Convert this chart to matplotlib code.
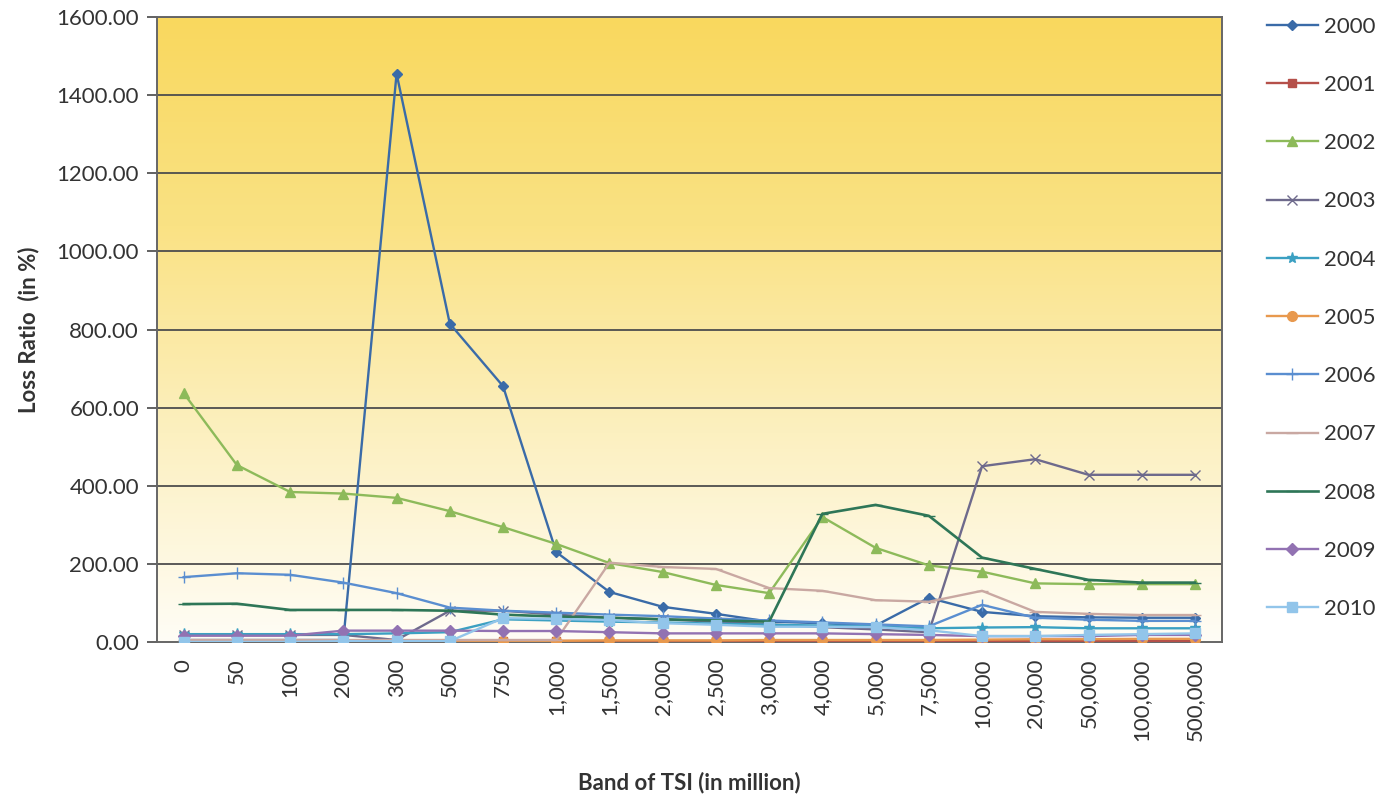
import numpy as np
import matplotlib
matplotlib.use("Agg")
import matplotlib.pyplot as plt
from matplotlib.colors import LinearSegmentedColormap

plt.rcParams['font.family'] = ['Lato', 'DejaVu Sans']

# ---- data ----
bands = ["0", "50", "100", "200", "300", "500", "750", "1,000", "1,500", "2,000",
         "2,500", "3,000", "4,000", "5,000", "7,500", "10,000", "20,000", "50,000",
         "100,000", "500,000"]

y2000 = [5, 5, 5, 5, 1455, 815, 655, 230, 128, 90, 72, 52, 48, 42, 113, 77, 66, 63, 62, 62]
y2001 = [2, 2, 2, 2, 2, 2, 2, 2, 2, 2, 2, 2, 2, 2, 2, 2, 2, 2, 2, 2]
y2002 = [637, 453, 384, 380, 369, 335, 294, 251, 202, 179, 146, 125, 320, 241, 196, 180, 150, 148, 148, 148]
y2003 = [18, 18, 18, 18, 5, 80, 80, 70, 62, 58, 52, 45, 38, 32, 25, 450, 468, 428, 428, 428]
y2004 = [20, 20, 20, 20, 22, 25, 58, 55, 52, 50, 47, 44, 42, 40, 35, 37, 38, 35, 35, 35]
y2005 = [3, 3, 3, 3, 3, 3, 3, 3, 4, 4, 4, 5, 5, 5, 5, 6, 7, 7, 8, 8]
y2006 = [166, 176, 172, 152, 125, 88, 80, 75, 70, 66, 60, 55, 50, 45, 40, 95, 62, 57, 54, 54]
y2007 = [5, 5, 5, 5, 5, 5, 5, 5, 203, 192, 187, 138, 131, 107, 103, 131, 77, 72, 69, 69]
y2008 = [97, 98, 82, 82, 82, 80, 70, 65, 62, 58, 55, 52, 328, 351, 323, 216, 187, 159, 152, 152]
y2009 = [16, 16, 16, 29, 29, 29, 28, 28, 25, 22, 22, 22, 22, 20, 18, 15, 15, 15, 18, 18]
y2010 = [0, 0, 0, 2, 2, 2, 61, 59, 56, 48, 44, 39, 39, 38, 30, 15, 15, 18, 20, 22]

series = [
    ("2000", y2000, "#3A6BA8", "D", 5, 1.7),
    ("2001", y2001, "#B5504A", "s", 6, 1.7),
    ("2002", y2002, "#8DBA5A", "^", 7, 1.7),
    ("2003", y2003, "#6E6A8C", "x", 7, 1.7),
    ("2004", y2004, "#3BA0C2", "*", 8, 1.7),
    ("2005", y2005, "#E8994E", "o", 7, 1.7),
    ("2006", y2006, "#5A8ED0", "+", 9, 1.7),
    ("2007", y2007, "#C9A8A2", "_", 8, 1.7),
    ("2008", y2008, "#2E7657", "_", 8, 1.9),
    ("2009", y2009, "#9272B2", "D", 6, 1.7),
    ("2010", y2010, "#92C5EA", "s", 7, 1.7),
]

fig = plt.figure(figsize=(13.85, 7.95), dpi=100)
ax = fig.add_axes([0.1134, 0.1925, 0.7686, 0.786])

x = np.arange(len(bands))

# yellow -> white gradient background
cmap = LinearSegmentedColormap.from_list("bg", ["#FFFDF6", "#FCF0C0", "#FAE284", "#F9D85E"])
grad = np.linspace(0, 1, 256).reshape(-1, 1)
ax.imshow(grad, cmap=cmap, aspect="auto", origin="lower",
          extent=[0, 1, 0, 1], transform=ax.transAxes, zorder=0)

for yv in range(200, 1601, 200):
    ax.axhline(yv, color="#4d4d4d", lw=1.3, zorder=1)

for name, vals, col, mk, ms, lw in series:
    ax.plot(x, vals, color=col, marker=mk, markersize=ms, lw=lw,
            markeredgecolor=col, markerfacecolor=col, label=name, zorder=3)

ax.set_xlim(-0.5, len(bands) - 0.5)
ax.set_ylim(0, 1600)
ax.set_yticks(range(0, 1601, 200))
ax.set_yticklabels([f"{v:.2f}" for v in range(0, 1601, 200)], fontsize=16, color="#333333")
ax.set_xticks(x)
ax.set_xticklabels(bands, rotation=90, fontsize=16, color="#333333")
ax.tick_params(axis="y", length=7, width=1.3, color="#555555", pad=6)
ax.tick_params(axis="x", length=0, pad=12)
for sp in ax.spines.values():
    sp.set_color("#666666")
    sp.set_linewidth(1.4)

ax.set_ylabel("Loss Ratio  (in %)", fontsize=16, fontweight="bold", color="#333333", labelpad=12)
ax.set_xlabel("Band of TSI (in million)", fontsize=16, fontweight="bold", color="#333333", labelpad=22)

leg = fig.legend(loc="upper left", bbox_to_anchor=(0.9, 1.004), frameon=False,
                 fontsize=16, labelspacing=1.72, handlelength=2.3, handletextpad=0.3)
for t in leg.get_texts():
    t.set_color("#333333")

fig.savefig("out.png", dpi=100)
